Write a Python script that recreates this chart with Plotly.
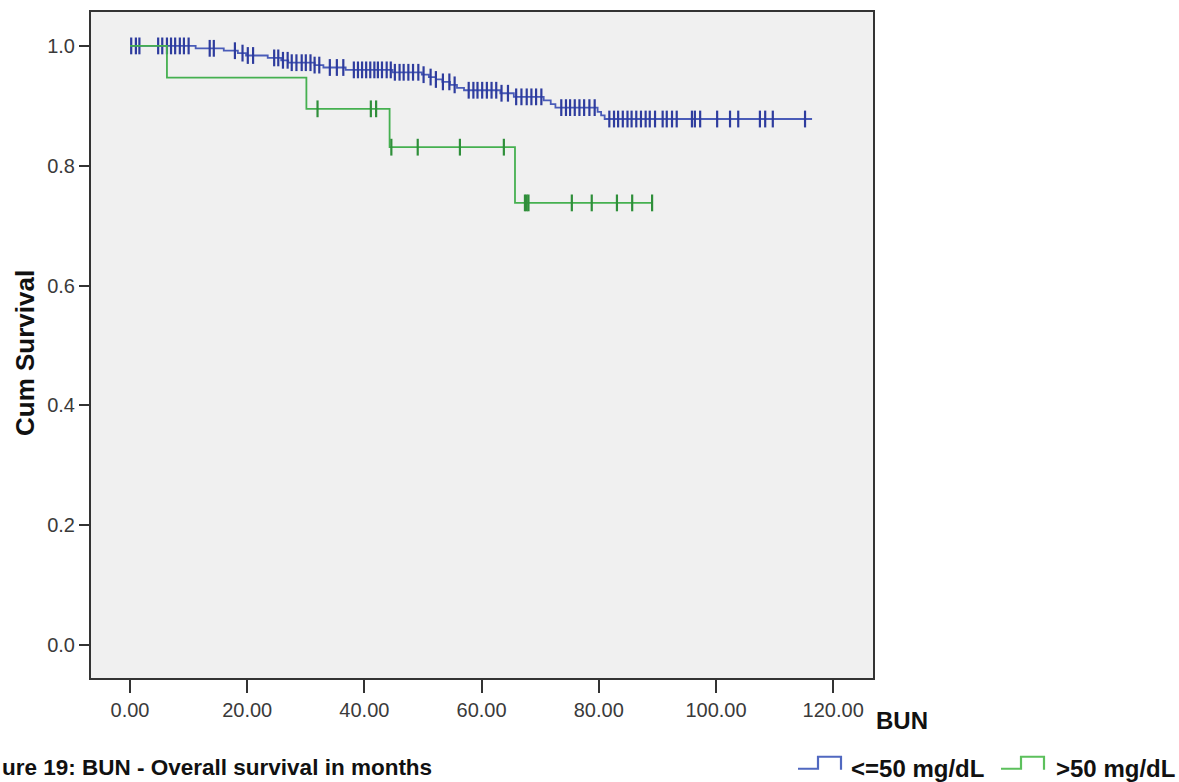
import numpy as np
import plotly.graph_objects as go

# Kaplan-Meier step levels (time in months, survival after the step)
low_step_t = [0, 11.2, 16.0, 18.4, 19.8, 23.5, 25.8, 27.0, 31.5, 33.0, 36.8, 44.8,
              49.8, 51.0, 52.2, 53.3, 54.6, 55.8, 57.0, 63.2, 65.5, 70.6, 71.8,
              72.6, 79.8, 80.4, 81.0]
low_step_s = [1.0, 0.996, 0.992, 0.988, 0.984, 0.980, 0.976, 0.972, 0.968, 0.964,
              0.960, 0.956, 0.952, 0.948, 0.944, 0.940, 0.935, 0.930, 0.926, 0.921,
              0.915, 0.909, 0.903, 0.897, 0.890, 0.884, 0.878]
low_censored = [0.2, 1.0, 1.6, 4.8, 5.5, 6.3, 7.0, 7.7, 8.5, 9.2, 10.0, 13.6, 14.3,
                17.9, 19.2, 20.1, 21.0, 24.6, 25.3, 26.1, 26.9, 27.6, 28.4, 29.3,
                30.0, 30.8, 31.5, 32.3, 34.1, 35.3, 36.4, 38.2, 38.9, 39.6, 40.3,
                41.0, 41.7, 42.3, 43.0, 43.8, 44.5, 45.2, 46.0, 46.7, 47.5, 48.3,
                49.2, 50.1, 51.3, 52.2, 53.4, 54.5, 55.4, 57.8, 58.6, 59.3, 60.1,
                60.9, 61.7, 62.5, 63.4, 64.5, 65.9, 66.8, 67.7, 68.5, 69.3, 70.2,
                73.6, 74.4, 75.1, 75.9, 76.7, 77.5, 78.4, 79.3, 81.8, 82.6, 83.3,
                84.1, 84.9, 85.6, 86.4, 87.2, 88.0, 88.7, 89.6, 90.9, 91.6, 92.5,
                93.3, 95.9, 96.4, 97.3, 100.2, 102.4, 103.8, 107.5, 108.4, 109.7,
                115.2]
low_end = 116.4

high_step_t = [0, 6.3, 30.1, 44.3, 65.7]
high_step_s = [1.0, 0.947, 0.895, 0.831, 0.738]
high_censored = [32.0, 41.1, 42.0, 44.6, 49.1, 56.3, 63.8, 67.4, 67.7, 68.0,
                 75.4, 78.8, 83.1, 85.7, 89.1]
high_end = 89.1

group_labels = ["<=50 mg/dL", ">50 mg/dL"]
x_ticks = [0, 20, 40, 60, 80, 100, 120]
y_ticks = [0.0, 0.2, 0.4, 0.6, 0.8, 1.0]

FONT = "Liberation Sans, Arial, sans-serif"
BLUE_LINE, BLUE_MARK = "#4A5CB8", "#2E3C9E"
GREEN_LINE, GREEN_MARK = "#45B050", "#2F8F3A"


def step_series(times, levels, end):
    xs = list(times) + [end]
    ys = list(levels) + [levels[-1]]
    return xs, ys


def level_at(times, levels, t):
    idx = np.searchsorted(np.asarray(times), np.asarray(t), side="right") - 1
    return np.asarray(levels)[idx]


fig = go.Figure()
for times, levels, cens, end, lc, mc in [
    (low_step_t, low_step_s, low_censored, low_end, BLUE_LINE, BLUE_MARK),
    (high_step_t, high_step_s, high_censored, high_end, GREEN_LINE, GREEN_MARK),
]:
    xs, ys = step_series(times, levels, end)
    fig.add_trace(go.Scatter(x=xs, y=ys, mode="lines", line=dict(color=lc, width=1.8, shape="hv"),
                             showlegend=False, hoverinfo="skip"))
    fig.add_trace(go.Scatter(x=cens, y=level_at(times, levels, cens), mode="markers",
                             marker=dict(symbol="line-ns", size=12, line=dict(color=mc, width=2.2)),
                             showlegend=False, hoverinfo="skip"))

fig.update_xaxes(range=[-6.66, 126.8], tickvals=x_ticks, tickformat=".2f",
                 ticks="outside", ticklen=13, tickwidth=1.6, tickcolor="#333",
                 showline=True, linecolor="#333", linewidth=2, mirror=True,
                 showgrid=False, zeroline=False,
                 tickfont=dict(family=FONT, size=20, color="#3a3a3a"))
fig.update_yaxes(range=[-0.0549, 1.0566], tickvals=y_ticks, tickformat=".1f",
                 ticks="outside", ticklen=10, tickwidth=1.6, tickcolor="#333",
                 showline=True, linecolor="#333", linewidth=2, mirror=True,
                 showgrid=False, zeroline=False,
                 tickfont=dict(family=FONT, size=20, color="#3a3a3a"))

L, R, T, B = 91, 306, 10, 104
W, H = 1179, 782
pw, ph = W - L - R, H - T - B


def px(x):
    return (x - L) / pw


def py(y):
    return (H - B - y) / ph


annotations = [
    dict(text="<b>Cum Survival</b>", x=px(25), y=py(352), textangle=-90,
         font=dict(family=FONT, size=26, color="#111")),
    dict(text="<b>BUN</b>", x=px(874), y=py(721), xanchor="left",
         font=dict(family=FONT, size=24, color="#111")),
    dict(text="<b>" + group_labels[0] + "</b>", x=px(849), y=py(769), xanchor="left",
         font=dict(family=FONT, size=24, color="#111")),
    dict(text="<b>" + group_labels[1] + "</b>", x=px(1054), y=py(769), xanchor="left",
         font=dict(family=FONT, size=24, color="#111")),
    dict(text="<b>ure 19: BUN - Overall survival in months</b>", x=px(0), y=py(768),
         xanchor="left", font=dict(family=FONT, size=22.5, color="#111")),
]
for a in annotations:
    a.update(xref="paper", yref="paper", showarrow=False, yanchor=a.get("yanchor", "middle"),
             xanchor=a.get("xanchor", "center"))

# step-shaped legend keys
shapes = []
for x0, col in [(798, "#5068C0"), (1001, "#5CC05C")]:
    path = "M {},{} L {},{} L {},{} L {},{} L {},{}".format(
        px(x0), py(769), px(x0 + 20), py(769), px(x0 + 20), py(757),
        px(x0 + 43), py(757), px(x0 + 43), py(770))
    shapes.append(dict(type="path", path=path, xref="paper", yref="paper",
                       line=dict(color=col, width=2.2)))

fig.update_layout(width=W, height=H, margin=dict(l=L, r=R, t=T, b=B, pad=0),
                  plot_bgcolor="#F0F0F0", paper_bgcolor="white",
                  annotations=annotations, shapes=shapes, showlegend=False)

fig.write_html("out.html")
